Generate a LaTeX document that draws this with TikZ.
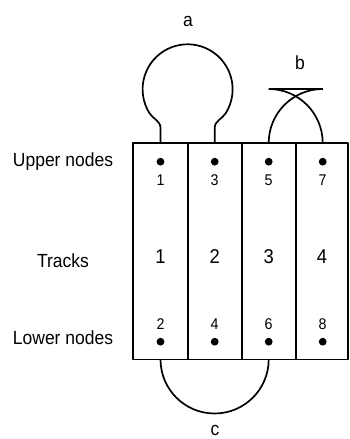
\documentclass[tikz,border=0pt]{standalone}
\usepackage{fontspec}
\setmainfont{Liberation Sans}[FakeStretch=0.92]
\usetikzlibrary{calc}
\begin{document}
\begin{tikzpicture}[x=1pt,y=1pt,
  wire/.style={line width=1.7pt, line join=round},
  cell/.style={minimum height=216pt, inner sep=0pt, anchor=north},
  dot/.style={circle, fill, inner sep=0pt, minimum size=7.8pt},
  lbl/.style={anchor=base, inner sep=0pt, font=\fontsize{19}{22}\selectfont},
  num/.style={anchor=base, inner sep=0pt, font=\fontsize{15.5}{18}\selectfont},
  trk/.style={anchor=base, inner sep=0pt, font=\fontsize{20}{23}\selectfont},
  loopname/.style={anchor=base, inner sep=0pt, font=\fontsize{19}{22}\selectfont}]
\useasboundingbox (0,0) rectangle (349,439);

% track cells
\node[cell, minimum width=54.4pt] (t1) at (160.5,296) {};
\node[cell, minimum width=54pt]   (t2) at (214.7,296) {};
\node[cell, minimum width=54pt]   (t3) at (268.7,296) {};
\node[cell, minimum width=52.3pt] (t4) at (321.85,296) {};
\draw[wire] (t1.north west) rectangle (t4.south east);
\draw[wire] (t1.north east) -- (t1.south east);
\draw[wire] (t2.north east) -- (t2.south east);
\draw[wire] (t3.north east) -- (t3.south east);

% track numbers
\node[trk] (n1) at (160.5,175) {1};
\node[trk] (n2) at (214.7,175) {2};
\node[trk] (n3) at (268.7,175) {3};
\node[trk] (n4) at (321.9,175) {4};

% upper nodes with their numbers
\node[dot] (u1) at (160.5,277.3) {};
\node[dot] (u3) at (214.7,277.3) {};
\node[dot] (u5) at (268.7,277.3) {};
\node[dot] (u7) at (322.7,277.3) {};
\node[num] (lu1) at (160.5,253) {1};
\node[num] (lu3) at (214.7,253) {3};
\node[num] (lu5) at (268.7,253) {5};
\node[num] (lu7) at (322.7,253) {7};

% lower nodes with their numbers
\node[dot] (d2) at (160.5,97.3) {};
\node[dot] (d4) at (214.7,97.3) {};
\node[dot] (d6) at (268.7,97.3) {};
\node[dot] (d8) at (322.7,97.3) {};
\node[num] (ld2) at (160.5,109) {2};
\node[num] (ld4) at (214.7,109) {4};
\node[num] (ld6) at (268.7,109) {6};
\node[num] (ld8) at (322.7,109) {8};

% row captions
\node[lbl] (upper) at (63,272.3) {Upper nodes};
\node[lbl] (tracks) at (63,171) {Tracks};
\node[lbl] (lower) at (63,94) {Lower nodes};

% loop names
\node[loopname] (la) at (188,412.5) {a};
\node[loopname] (lb) at (300,369) {b};
\node[loopname] (lc) at (215,4) {c};

% attachment points on the top and bottom edges
\coordinate (a1) at (t1.north);
\coordinate (a2) at (t2.north);
\coordinate (b1) at (t3.north);
\coordinate (b2) at (t4.north -| u7);
\coordinate (c1) at (t1.south);
\coordinate (c2) at (t3.south);

% loop a: balloon between tracks 1 and 2
\coordinate (ac) at (187.6,349.7);
\draw[wire] (a1) -- ++(0,15)
  to[out=90,in=-58] ($(ac)+(212:45)$)
  arc[start angle=212,end angle=-32,radius=45pt]
  to[out=-122,in=90] ($(a2)+(0,15)$) -- (a2);

% loop b: crossed arcs between tracks 3 and 4
\draw[wire] (b1) arc[start angle=180,end angle=90,radius=54pt];
\draw[wire] (b2) arc[start angle=0,end angle=90,radius=54pt];
\draw[wire] ($(b1)+(0,54)$) -- ($(b2)+(0,54)$);

% loop c: half circle under tracks 1 to 3
\draw[wire] (c1) arc[start angle=180,end angle=360,radius=54.1pt];
\end{tikzpicture}
\end{document}
